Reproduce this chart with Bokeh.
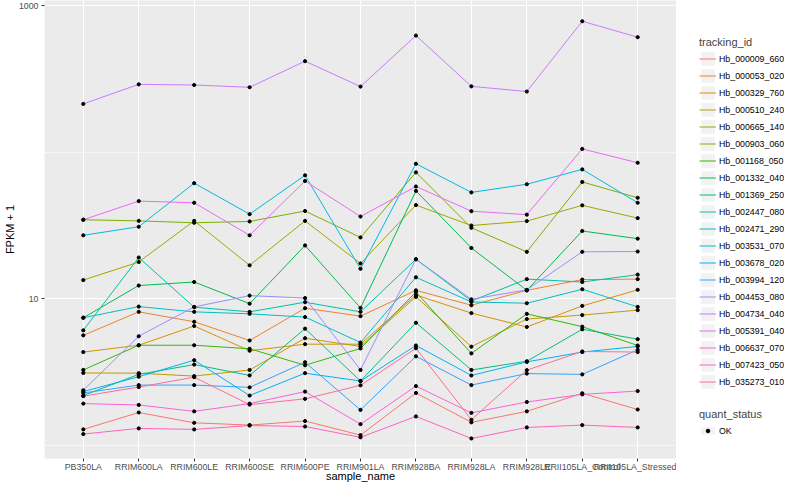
from bokeh.plotting import figure
from bokeh.layouts import row
from bokeh.models import FactorRange, Range1d, FixedTicker, Legend, LegendItem, BasicTickFormatter
from bokeh.embed import file_html
from bokeh.resources import INLINE

samples = ["PB350LA", "RRIM600LA", "RRIM600LE", "RRIM600SE", "RRIM600PE", "RRIM901LA",
           "RRIM928BA", "RRIM928LA", "RRIM928LE", "RRII105LA_Control", "RRII105LA_Stressed"]

tracking_ids = ["Hb_000009_660", "Hb_000053_020", "Hb_000329_760", "Hb_000510_240", "Hb_000665_140",
                "Hb_000903_060", "Hb_001168_050", "Hb_001332_040", "Hb_001369_250", "Hb_002447_080",
                "Hb_002471_290", "Hb_003531_070", "Hb_003678_020", "Hb_003994_120", "Hb_004453_080",
                "Hb_004734_040", "Hb_005391_040", "Hb_006637_070", "Hb_007423_050", "Hb_035273_010"]

fpkm_000009_660 = [1.28, 1.67, 1.42, 1.37, 1.46, 1.17, 2.27, 1.43, 1.70, 2.26, 1.75]
fpkm_000053_020 = [5.62, 8.13, 6.96, 5.18, 8.61, 7.60, 11.4, 9.02, 11.4, 13.5, 13.6]
fpkm_000329_760 = [4.32, 4.81, 6.51, 4.41, 4.89, 4.89, 10.6, 7.97, 6.41, 8.93, 11.5]
fpkm_000510_240 = [3.11, 3.10, 2.96, 3.26, 5.37, 4.72, 10.3, 4.70, 7.26, 7.73, 8.35]
fpkm_000665_140 = [13.4, 17.8, 34.0, 16.9, 34.0, 17.4, 43.6, 31.6, 33.9, 43.4, 35.5]
fpkm_000903_060 = [34.6, 34.0, 33.0, 33.7, 39.7, 26.2, 72.9, 30.5, 20.9, 62.7, 48.9]
fpkm_001168_050 = [3.26, 4.81, 4.81, 4.55, 3.51, 4.57, 11.1, 4.23, 7.88, 6.44, 4.79]
fpkm_001332_040 = [7.41, 12.3, 13.0, 9.25, 23.1, 8.65, 54.5, 22.2, 11.4, 29.0, 25.7]
fpkm_001369_250 = [2.18, 3.04, 3.55, 2.99, 6.24, 2.74, 6.85, 3.26, 3.74, 6.18, 5.29]
fpkm_002447_080 = [6.08, 19.1, 8.75, 8.13, 9.46, 8.13, 18.6, 9.65, 13.6, 13.0, 14.6]
fpkm_002471_290 = [7.41, 8.83, 8.13, 7.88, 7.49, 5.02, 14.0, 9.50, 9.31, 11.6, 8.79]
fpkm_003531_070 = [27.1, 31.0, 61.5, 37.8, 69.6, 16.0, 83.5, 53.2, 60.5, 76.4, 45.2]
fpkm_003678_020 = [2.32, 2.93, 3.80, 2.18, 3.10, 2.74, 4.79, 2.99, 3.70, 4.32, 4.72]
fpkm_003994_120 = [2.27, 2.57, 2.57, 2.48, 3.68, 1.74, 4.04, 2.57, 3.08, 3.04, 4.48]
fpkm_004453_080 = [2.37, 5.54, 8.79, 10.5, 10.1, 3.26, 18.6, 9.90, 11.5, 20.9, 21.0]
fpkm_004734_040 = [214, 291, 288, 278, 419, 281, 627, 282, 260, 785, 611]
fpkm_005391_040 = [34.6, 46.4, 45.2, 27.1, 63.7, 36.4, 58.4, 39.6, 37.5, 105.4, 84.8]
fpkm_006637_070 = [1.92, 1.88, 1.70, 1.92, 2.32, 1.39, 2.53, 1.66, 1.97, 2.22, 2.34]
fpkm_007423_050 = [1.19, 1.30, 1.28, 1.36, 1.34, 1.13, 1.57, 1.11, 1.32, 1.37, 1.32]
fpkm_035273_010 = [2.16, 2.49, 2.91, 1.89, 2.07, 2.56, 4.59, 1.49, 3.25, 4.36, 4.32]

series = [fpkm_000009_660, fpkm_000053_020, fpkm_000329_760, fpkm_000510_240, fpkm_000665_140,
          fpkm_000903_060, fpkm_001168_050, fpkm_001332_040, fpkm_001369_250, fpkm_002447_080,
          fpkm_002471_290, fpkm_003531_070, fpkm_003678_020, fpkm_003994_120, fpkm_004453_080,
          fpkm_004734_040, fpkm_005391_040, fpkm_006637_070, fpkm_007423_050, fpkm_035273_010]

colors = ["#F8766D", "#EA8331", "#D89000", "#C09B00", "#A3A500", "#7CAE00", "#39B600", "#00BB4E",
          "#00BF7D", "#00C1A3", "#00BFC4", "#00BAE0", "#00B0F6", "#35A2FF", "#9590FF", "#C77CFF",
          "#E76BF3", "#FA62DB", "#FF62BC", "#FF6C91"]

quant_status = ["OK"]

FONT = "Liberation Sans"

# ---------------- main panel ----------------
p = figure(width=676, height=484,
           x_range=FactorRange(factors=samples, range_padding=0.2, range_padding_units="absolute"),
           y_range=Range1d(0.81, 1088), y_axis_type="log",
           output_backend="svg", toolbar_location=None,
           min_border_left=37, min_border_right=0, min_border_top=0, min_border_bottom=20)
p.background_fill_color = "#EBEBEB"
p.border_fill_color = "white"
p.outline_line_color = None

ticker = FixedTicker(ticks=[10, 1000], minor_ticks=[1, 100])
p.yaxis.ticker = ticker
p.yaxis.formatter = BasicTickFormatter(use_scientific=False)
p.ygrid.ticker = ticker
p.ygrid.grid_line_color = "white"
p.ygrid.grid_line_width = 1.1
p.ygrid.minor_grid_line_color = "white"
p.ygrid.minor_grid_line_width = 0.55
p.xgrid.grid_line_color = "white"
p.xgrid.grid_line_width = 1.1

for ax in (p.xaxis[0], p.yaxis[0]):
    ax.axis_line_color = None
    ax.major_tick_line_color = "#333333"
    ax.major_tick_out = 3
    ax.major_tick_in = 0
    ax.minor_tick_line_color = None
    ax.major_label_text_font = FONT
    ax.major_label_text_font_size = "8.8px"
    ax.major_label_text_color = "#4D4D4D"
    ax.axis_label_text_font = FONT
    ax.axis_label_text_font_size = "11px"
    ax.axis_label_text_font_style = "normal"
    ax.axis_label_text_color = "black"

p.xaxis.axis_label = "sample_name"
p.yaxis.axis_label = "FPKM + 1"
p.xaxis.major_label_standoff = 0
p.xaxis.axis_label_standoff = -5
p.yaxis.major_label_standoff = 2
p.yaxis.axis_label_standoff = 0

for vals, c in zip(series, colors):
    p.line(samples, vals, line_color=c, line_width=1)

all_x = [s for vals in series for s in samples]
all_y = [v for vals in series for v in vals]
p.scatter(all_x, all_y, size=3.2, color="black", marker="circle")

# ---------------- legend column ----------------
lg = figure(width=108, height=484,
            x_range=FactorRange(factors=samples), y_range=Range1d(1e5, 1e6), y_axis_type="log",
            output_backend="svg", toolbar_location=None, min_border=0,
            x_axis_location=None, y_axis_location=None)
lg.outline_line_color = None
lg.background_fill_color = "white"
lg.border_fill_color = "white"
lg.grid.visible = False

# key backgrounds (zero-size rect, only visible inside the legend keys)
key_bg = lg.rect(x=[samples[0]], y=[series[0][0]], width=0, height=0,
                 fill_color="#F2F2F2", line_color=None)
leg_lines = [lg.line(samples, vals, line_color=c, line_width=1) for vals, c in zip(series, colors)]
leg_pts = lg.scatter(all_x, all_y, size=3.2, color="black", marker="circle")

legend_kw = dict(padding=0, margin=0, spacing=0, label_height=17,
                 label_standoff=3, border_line_color=None, background_fill_alpha=0,
                 label_text_font=FONT, label_text_font_size="8.8px", label_text_color="black",
                 title_text_font=FONT, title_text_font_size="11px", title_text_font_style="normal",
                 title_standoff=2)

items = [LegendItem(label=t, renderers=[key_bg, r]) for t, r in zip(tracking_ids, leg_lines)]
leg1 = Legend(items=items, title="tracking_id", location=(23, 68),
              glyph_width=17, glyph_height=17, **legend_kw)
lg.add_layout(leg1)

leg2 = Legend(items=[LegendItem(label=quant_status[0], renderers=[key_bg, leg_pts])],
              title="quant_status", location=(23, 19),
              glyph_width=17, glyph_height=9, **legend_kw)
lg.add_layout(leg2)

layout = row(p, lg)
open("out.html", "w").write(file_html(layout, INLINE))
